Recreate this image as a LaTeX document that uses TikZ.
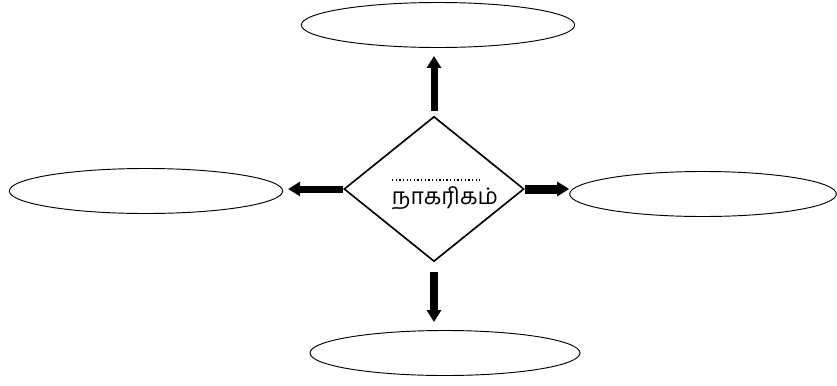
\documentclass[tikz,border=0pt]{standalone}
\usepackage{fontspec}
\newfontfamily\tamilfont[Script=Tamil]{Hind Madurai}
\usetikzlibrary{arrows.meta, shapes.geometric}
\tikzset{
  bubble/.style={ellipse, draw=black, line width=0.8pt, inner sep=0pt, minimum width=8.2cm, minimum height=1.35cm},
  hubshape/.style={diamond, draw=black, line width=1.4pt, inner sep=0pt, minimum width=5.4cm, minimum height=4.35cm},
  bigarrow/.style={line width=0.21cm, -{Triangle[width=0.42cm, length=0.36cm]}}
}

\begin{document}
\begin{tikzpicture}[x=0.03cm, y=-0.03cm]
    \useasboundingbox (0,0) rectangle (837,385);

    \node[hubshape](hub) at (434,189){};
    \node[font=\tamilfont\fontsize{19.5}{22}\selectfont, inner sep=0pt](name) at (445,198){நாகரிகம்};
    \draw[dotted, line width=1.1pt](392,180)--(482,180);

    \node[bubble](top) at (438,25){};
    \node[bubble](left) at (146,191){};
    \node[bubble, minimum width=8.0cm](right) at (703,194){};
    \node[bubble, minimum width=8.1cm](bottom) at (445,353){};

    \draw[bigarrow, shorten <=0.15cm, shorten >=0.24cm](hub.north)--(hub.north |- top.south);
    \draw[bigarrow, shorten >=0.15cm](hub.west)--(hub.west -| left.east);
    \draw[bigarrow, line width=0.27cm](hub.east)--(hub.east -| right.west);
    \draw[bigarrow, line width=0.26cm, shorten <=0.3cm, shorten >=0.24cm](hub.south)--(hub.south |- bottom.north);
  \end{tikzpicture}
\end{document}
